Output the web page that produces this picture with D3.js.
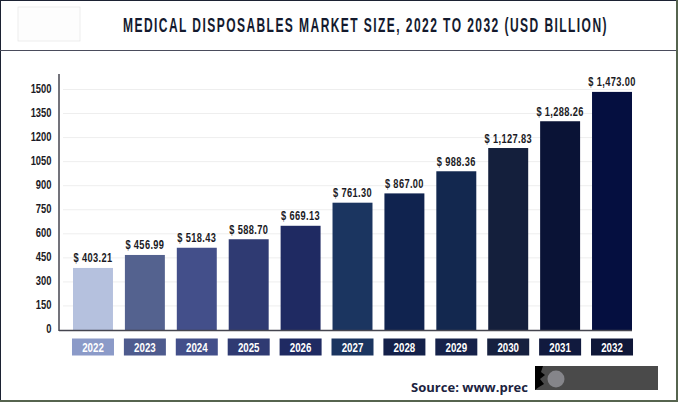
<!DOCTYPE html>
<html>
<head>
<meta charset="utf-8">
<script src="https://cdn.jsdelivr.net/npm/d3@7"></script>
<style>
html, body { margin: 0; padding: 0; background: #fff; }
svg { display: block; }
text { font-family: "Liberation Sans", sans-serif; font-weight: bold; }
</style>
</head>
<body>
<div id="chart"></div>
<script>
var years = ["2022","2023","2024","2025","2026","2027","2028","2029","2030","2031","2032"];
// bar heights, they do not always agree with the printed labels
var barValues = [387, 468, 513, 566, 650, 794, 852, 990, 1135, 1302, 1485];
var valueLabels = ["$ 403.21","$ 456.99","$ 518.43","$ 588.70","$ 669.13","$ 761.30","$ 867.00","$ 988.36","$ 1,127.83","$ 1,288.26","$ 1,473.00"];
var yTicks = [0,150,300,450,600,750,900,1050,1200,1350,1500];
var barColors = ["#b5c1de","#54628f","#434f8a","#2f3a72","#1f2a62","#1b3560","#10234f","#13284f","#141f3c","#0a1336","#050f40"];
var tagColors = ["#8b9ac8","#4e5b8e","#434f8a","#2f3a72","#1f2a62","#1b3560","#14214a","#16224a","#16203f","#111a3e","#0f1738"];

var width = 678, height = 402;

// no condensed font is installed, so squeeze the glyphs horizontally
function squeeze(sel, factor) {
	sel.each(function() {
		var w = this.getComputedTextLength();
		d3.select(this).attr("textLength", w * factor).attr("lengthAdjust", "spacingAndGlyphs");
	});
}

var svg = d3.select("#chart").append("svg")
	.attr("width", width)
	.attr("height", height);

var x = d3.scaleBand().domain(years).range([73, 632]).paddingInner(0.23).paddingOuter(0);
var y = d3.scaleLinear().domain([0, 1500]).range([330, 89.5]);

// page frame
svg.append("rect").attr("x", 0).attr("y", 0).attr("width", width).attr("height", height).attr("fill", "#fff");
svg.append("rect").attr("x", 0).attr("y", 0).attr("width", width).attr("height", 1).attr("fill", "#1c2233");
svg.append("rect").attr("x", 0).attr("y", 0).attr("width", 1).attr("height", height).attr("fill", "#1c2233");
svg.append("rect").attr("x", 676).attr("y", 0).attr("width", 2).attr("height", height).attr("fill", "#56644f");
svg.append("rect").attr("x", 0).attr("y", 400).attr("width", width).attr("height", 2).attr("fill", "#56644f");

// blank logo box
svg.append("rect").attr("x", 18).attr("y", 7).attr("width", 62).attr("height", 34)
	.attr("fill", "#fdfdfd").attr("stroke", "#e6e6e6").attr("stroke-width", 0.7);

// title is scaled as a whole so it keeps its true box
var title = svg.append("text")
	.attr("font-size", 21).attr("letter-spacing", 2.5).attr("fill", "#141a2e")
	.text("MEDICAL DISPOSABLES MARKET SIZE, 2022 TO 2032 (USD BILLION)");
title.attr("transform", "translate(123,31.5) scale(" + (485 / title.node().getComputedTextLength()) + ",1)");

svg.append("line").attr("x1", 0).attr("x2", 676).attr("y1", 50.5).attr("y2", 50.5)
	.attr("stroke", "#4a4c5c").attr("stroke-width", 1);

// grid
svg.append("g").selectAll("line").data(yTicks.slice(1)).join("line")
	.attr("x1", 63).attr("x2", 632)
	.attr("y1", function(d) { return y(d); })
	.attr("y2", function(d) { return y(d); })
	.attr("stroke", "#eeeeee").attr("stroke-width", 1);

// y axis labels
var yAxis = d3.axisLeft(y).tickValues(yTicks).tickSize(0).tickPadding(0).tickFormat(d3.format("d"));
var yG = svg.append("g").attr("transform", "translate(51.5,-1.5)").call(yAxis);
yG.select(".domain").remove();
yG.selectAll("text").attr("font-size", 12.5).attr("fill", "#1a1a24")
	.style("font-family", "\"Liberation Sans\", sans-serif").style("font-weight", "bold")
	.call(squeeze, 0.75);

// bars
svg.append("g").selectAll("rect").data(years).join("rect")
	.attr("x", function(d) { return x(d); })
	.attr("width", x.bandwidth())
	.attr("y", function(d, i) { return y(barValues[i]); })
	.attr("height", function(d, i) { return y(0) - y(barValues[i]); })
	.attr("fill", function(d, i) { return barColors[i]; });

// axis lines
svg.append("line").attr("x1", 59).attr("x2", 59).attr("y1", 74).attr("y2", 331)
	.attr("stroke", "#45454f").attr("stroke-width", 1.5);
svg.append("line").attr("x1", 59).attr("x2", 632).attr("y1", 330.5).attr("y2", 330.5)
	.attr("stroke", "#45454f").attr("stroke-width", 1.5);

// value labels
svg.append("g").selectAll("text").data(years).join("text")
	.attr("x", function(d) { return x(d) + x.bandwidth() / 2; })
	.attr("y", function(d, i) { return y(barValues[i]) - 5.5; })
	.attr("text-anchor", "middle")
	.attr("font-size", 12.5).attr("letter-spacing", 0.5).attr("fill", "#1a1a24")
	.text(function(d, i) { return valueLabels[i]; })
	.call(squeeze, 0.74);

// year tags
var tags = svg.append("g").selectAll("g").data(years).join("g")
	.attr("transform", function(d) { return "translate(" + (x(d) + x.bandwidth() / 2) + ",347)"; });
tags.append("rect")
	.attr("x", -21).attr("y", -8.5).attr("width", 42).attr("height", 17)
	.attr("fill", function(d, i) { return tagColors[i]; });
tags.append("text")
	.attr("text-anchor", "middle").attr("y", 5)
	.attr("font-size", 13.5).attr("fill", "#fff")
	.text(function(d) { return d; })
	.call(squeeze, 0.72);

// source line, the rest of it is blotted out in the picture
svg.append("text")
	.attr("x", 411).attr("y", 392)
	.attr("font-size", 12).attr("fill", "#1c2340")
	.attr("textLength", 117).attr("lengthAdjust", "spacingAndGlyphs")
	.style("font-family", "\"Open Sans\", sans-serif")
	.text("Source: www.prec");

svg.append("rect").attr("x", 535).attr("y", 366).attr("width", 123).attr("height", 24).attr("fill", "#4a4a4a");
svg.append("path").attr("d", "M535 366h8l-2 6 4 3-5 4 4 5-5 3-4 3z").attr("fill", "#000");
svg.append("circle").attr("cx", 556).attr("cy", 379).attr("r", 8.5).attr("fill", "#85858a");
</script>
</body>
</html>
